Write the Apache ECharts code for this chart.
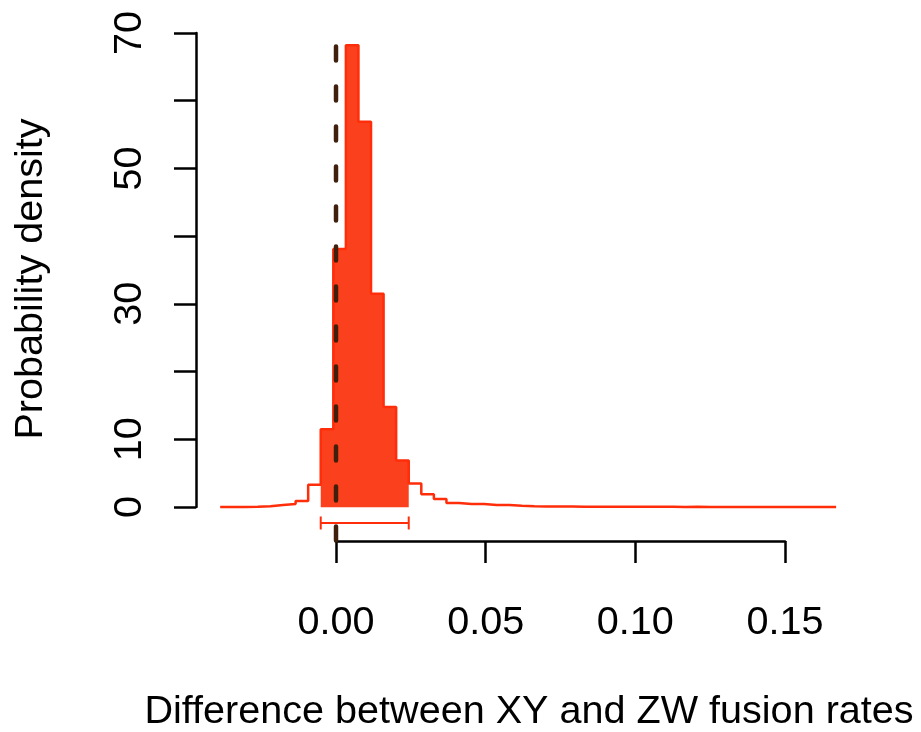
<!DOCTYPE html>
<html><head><meta charset="utf-8">
<script src="https://cdn.jsdelivr.net/npm/echarts@6/dist/echarts.min.js"></script>
<style>html,body{margin:0;padding:0;background:#fff}#c{width:921px;height:732px}</style>
</head><body><div id="c"></div>
<script>
// ---- data ----
const binLeftEdges = [
  -0.0387, -0.0345, -0.0303, -0.0261, -0.0219, -0.0177, -0.0135, -0.0093,
  -0.0051, -0.0009, 0.0033, 0.0075, 0.0117, 0.0159, 0.0201,
  0.0243, 0.0285, 0.0327, 0.0369, 0.0411, 0.0453, 0.0495, 0.0537, 0.0579,
  0.0621, 0.0663, 0.0705, 0.0747, 0.0789, 0.0831, 0.0873, 0.0915, 0.0957,
  0.0999, 0.1041, 0.1083, 0.1125, 0.1167, 0.1209, 0.1251, 0.1293, 0.1335,
  0.1377, 0.1419, 0.1461, 0.1503, 0.1545, 0.1587, 0.1629
];
const lastBinRightEdge = 0.1671;
const density = [
  0.03, 0.03, 0.05, 0.12, 0.3, 0.45, 0.9, 3.3,
  11.5, 38.1, 68.2, 56.9, 31.5, 14.8, 6.9,
  3.5, 1.9, 1.2, 0.6, 0.45, 0.45, 0.3, 0.3, 0.2,
  0.12, 0.1, 0.08, 0.08, 0.06, 0.07, 0.05, 0.05, 0.06,
  0.04, 0.05, 0.04, 0.03, 0.04, 0.03, 0.03, 0.03, 0.02,
  0.03, 0.02, 0.02, 0.02, 0.02, 0.01, 0.01
];
const intervalLower = -0.0051;
const intervalUpper = 0.0243;
const intervalBarLevel = -2.34;
const referenceLineX = 0;
const referenceLineTop = 68;
const referenceLineBottom = -5;
const xTickValues = [0, 0.05, 0.10, 0.15];
const xTickLabels = ['0.00', '0.05', '0.10', '0.15'];
const yTickValues = [0, 10, 20, 30, 40, 50, 60, 70];
const yTickLabels = ['0', '10', '', '30', '', '50', '', '70'];
const xTitle = 'Difference between XY and ZW fusion rates';
const yTitle = 'Probability density';

// ---- build ----
const FONT = 'Liberation Sans, Arial, Helvetica, sans-serif';
const FS = 39.6;
const RED_FILL = '#fb401d';
const RED_LINE = '#ff2d0a';
const BROWN = '#40200c';

const outlinePts = binLeftEdges.map((e, i) => [e, density[i]]);
outlinePts.push([lastBinRightEdge, density[density.length - 1]]);

const fillPts = [];
binLeftEdges.forEach((e, i) => {
  const right = i + 1 < binLeftEdges.length ? binLeftEdges[i + 1] : lastBinRightEdge;
  if (e >= intervalLower - 1e-9 && right <= intervalUpper + 1e-9) fillPts.push([e, density[i]]);
});
fillPts.push([intervalUpper, fillPts[fillPts.length - 1][1]]);

function lab(vals, labels) {
  return v => {
    let best = 0, d = Infinity;
    vals.forEach((t, i) => { if (Math.abs(t - v) < d) { d = Math.abs(t - v); best = i; } });
    return d < 1e-6 ? labels[best] : '';
  };
}

const axisLineStyle = { color: '#000', width: 2.5 };
const chart = echarts.init(document.getElementById('c'), null, { renderer: 'canvas' });
chart.setOption({
  animation: false,
  backgroundColor: '#fff',
  grid: [
    { left: 196, top: 33, width: 640, height: 508 },
    { left: 196, top: 33, width: 10, height: 474 },
    { left: 336, top: 500, width: 449, height: 41 }
  ],
  xAxis: [
    { gridIndex: 0, type: 'value', min: -140 / 2993, max: 500 / 2993, show: false },
    { gridIndex: 1, type: 'value', min: 0, max: 1, show: false },
    { gridIndex: 2, type: 'value', min: 0, max: 0.15, interval: 0.05, position: 'bottom',
      axisLine: { show: true, onZero: false, lineStyle: axisLineStyle },
      axisTick: { show: true, length: 22, lineStyle: axisLineStyle },
      splitLine: { show: false },
      axisLabel: { margin: 62, fontSize: FS, fontFamily: FONT, color: '#000',
        formatter: lab(xTickValues, xTickLabels) } }
  ],
  yAxis: [
    { gridIndex: 0, type: 'value', min: -5, max: 70, show: false },
    { gridIndex: 1, type: 'value', min: 0, max: 70, interval: 10, position: 'left',
      axisLine: { show: true, onZero: false, lineStyle: axisLineStyle },
      axisTick: { show: true, length: 22, lineStyle: axisLineStyle },
      splitLine: { show: false },
      axisLabel: { rotate: 90, margin: 46, fontSize: FS, fontFamily: FONT, color: '#000',
        formatter: lab(yTickValues, yTickLabels) } },
    { gridIndex: 2, type: 'value', min: 0, max: 1, show: false }
  ],
  series: [
    { type: 'line', xAxisIndex: 0, yAxisIndex: 0, data: fillPts, step: 'end',
      symbol: 'none', z: 2, lineStyle: { width: 0, color: RED_FILL },
      areaStyle: { color: RED_FILL, opacity: 1 } },
    { type: 'line', xAxisIndex: 0, yAxisIndex: 0, data: outlinePts, step: 'end',
      symbol: 'none', z: 3, lineStyle: { width: 2.5, color: RED_LINE } },
    { type: 'custom', xAxisIndex: 0, yAxisIndex: 0, z: 3,
      data: [[intervalLower, intervalUpper, intervalBarLevel]],
      encode: { x: [0, 1], y: 2 },
      renderItem: (params, api) => {
        const a = api.coord([api.value(0), api.value(2)]);
        const b = api.coord([api.value(1), api.value(2)]);
        const h = 6.5;
        const st = { stroke: RED_LINE, lineWidth: 2 };
        return { type: 'group', children: [
          { type: 'line', shape: { x1: a[0], y1: a[1], x2: b[0], y2: b[1] }, style: st },
          { type: 'line', shape: { x1: a[0], y1: a[1] - h, x2: a[0], y2: a[1] + h }, style: st },
          { type: 'line', shape: { x1: b[0], y1: b[1] - h, x2: b[0], y2: b[1] + h }, style: st }
        ] };
      } },
    { type: 'line', xAxisIndex: 0, yAxisIndex: 0, z: 5, symbol: 'none',
      data: [[referenceLineX, referenceLineTop], [referenceLineX, referenceLineBottom]],
      lineStyle: { width: 4.5, color: BROWN, type: [14, 26], cap: 'round' } }
  ],
  graphic: [
    { type: 'text', left: null, x: 31, y: 279, rotation: Math.PI / 2,
      style: { text: yTitle, font: FS + 'px ' + FONT, fill: '#000', textAlign: 'center', textVerticalAlign: 'middle' } },
    { type: 'text', x: 529, y: 712,
      style: { text: xTitle, font: FS + 'px ' + FONT, fill: '#000', textAlign: 'center', textVerticalAlign: 'middle' } }
  ]
});
</script></body></html>
